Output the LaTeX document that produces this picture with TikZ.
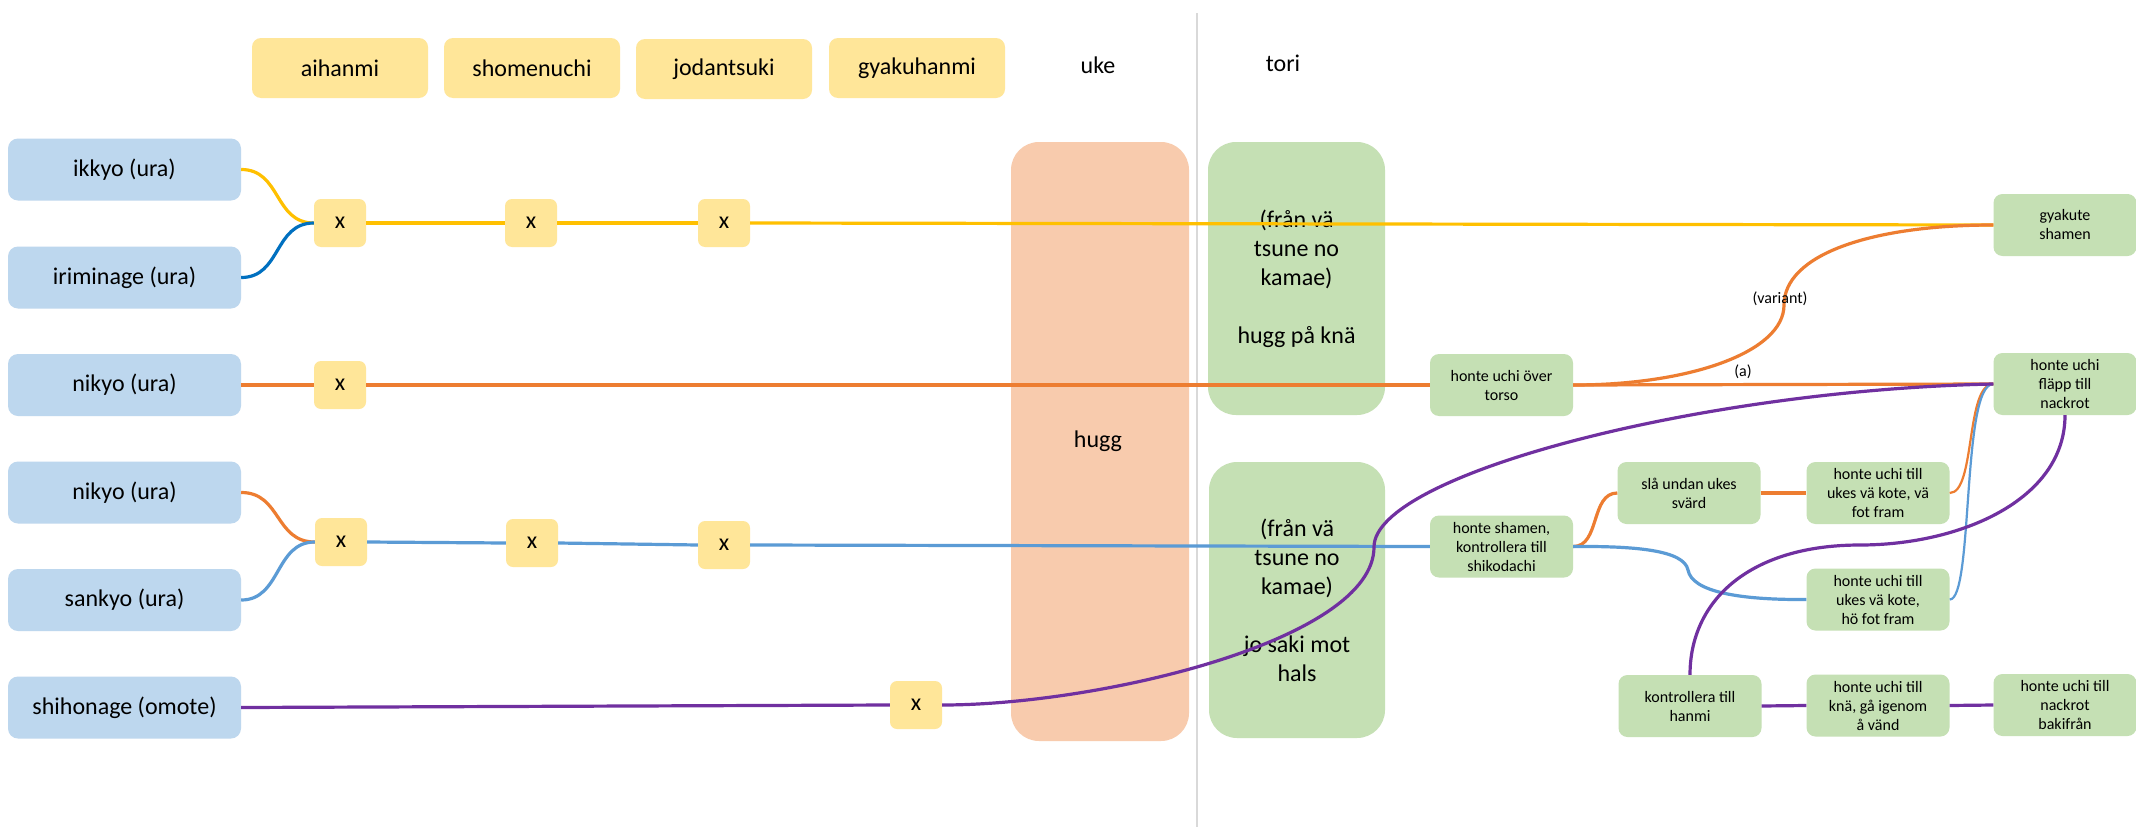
\documentclass[tikz,border=0pt]{standalone}
\usepackage{fontspec}
\setmainfont{Carlito}
\definecolor{hdry}{HTML}{FFE699}
\definecolor{lblu}{HTML}{BDD7EE}
\definecolor{grn}{HTML}{C5E0B4}
\definecolor{peach}{HTML}{F8CBAD}
\definecolor{cyel}{HTML}{FFC000}
\definecolor{cdblue}{HTML}{0070C0}
\definecolor{corange}{HTML}{ED7D31}
\definecolor{clblue}{HTML}{5B9BD5}
\definecolor{cpurple}{HTML}{7030A0}
\definecolor{gline}{HTML}{D9D9D9}
\begin{document}
\begin{tikzpicture}[x=1pt,y=-1pt,
 base/.style={inner sep=0pt, align=center, text=black},
 hdr/.style={base, fill=hdry, rounded corners=9pt, minimum width=176pt, minimum height=60pt, font=\fontsize{24}{29}\selectfont},
 lbox/.style={base, fill=lblu, rounded corners=10pt, minimum width=233pt, minimum height=62pt, font=\fontsize{24}{29}\selectfont},
 xbox/.style={base, fill=hdry, rounded corners=7pt, minimum width=52pt, minimum height=48pt, font=\fontsize{24}{29}\selectfont},
 big/.style={base, rounded corners=28pt, font=\fontsize{24}{29}\selectfont},
 sbox/.style={base, fill=grn, rounded corners=9pt, minimum width=143pt, minimum height=62pt, font=\fontsize{16}{19}\selectfont},
 plain/.style={base, font=\fontsize{24}{29}\selectfont},
 lbl/.style={base, font=\fontsize{16}{19}\selectfont},
 conn/.style={line width=3.2pt},
 thinconn/.style={line width=2.2pt},
]
\useasboundingbox (0,0) rectangle (2136,827);
\fill[white] (0,0) rectangle (2136,827);
% divider
\coordinate (dtop) at (1197,13);
\coordinate (dbot) at (1197,827);
\draw[gline, line width=1.5pt] (dtop) -- (dbot);

% headers
\node[hdr] (h1) at (340,68) {aihanmi};
\node[hdr] (h2) at (532,68) {shomenuchi};
\node[hdr] (h3) at (724,69) {jodantsuki};
\node[hdr] (h4) at (917,68) {gyakuhanmi};
\node[plain] (uke) at (1098,65) {uke};
\node[plain] (tori) at (1283,63) {tori};

% left boxes
\node[lbox] (ikkyo) at (124.5,169.5) {ikkyo (ura)};
\node[lbox] (irimi) at (124.5,277.5) {iriminage (ura)};
\node[lbox] (nikyoa) at (124.5,385) {nikyo (ura)};
\node[lbox] (nikyob) at (124.5,492.5) {nikyo (ura)};
\node[lbox] (sankyo) at (124.5,600) {sankyo (ura)};
\node[lbox] (shiho) at (124.5,707.5) {shihonage (omote)};

% x boxes
\node[xbox] (x11) at (340,223) {x};
\node[xbox] (x12) at (531,223) {x};
\node[xbox] (x13) at (724,223) {x};
\node[xbox] (x31) at (340,385) {x};
\node[xbox] (x41) at (341,542) {x};
\node[xbox] (x42) at (532,543) {x};
\node[xbox] (x43) at (724,545) {x};
\node[xbox] (x61) at (916,705) {x};

% big boxes
\node[big, fill=peach, minimum width=178pt, minimum height=599pt] (hugg) at (1100,441.5) {};
\node[plain] (huggt) at (1098,441) {hugg};
\node[big, fill=grn, minimum width=177pt, minimum height=273pt] (toria) at (1296.5,278.5)
  {(från vä\\tsune no\\kamae)\\[29pt]hugg på knä};
\node[big, fill=grn, minimum width=176pt, minimum height=276pt] (torib) at (1297,600)
  {(från vä\\tsune no\\kamae)\\[29pt]jo saki mot\\hals};

% small boxes
\node[sbox] (torso) at (1501.5,385) {honte uchi över\\torso};
\node[sbox] (shamen) at (1501.5,546.5) {honte shamen,\\kontrollera till\\shikodachi};
\node[sbox] (sla) at (1689,493) {slå undan ukes\\svärd};
\node[sbox] (vafot) at (1878,493) {honte uchi till\\ukes vä kote, vä\\fot fram};
\node[sbox] (hofot) at (1878,599.5) {honte uchi till\\ukes vä kote,\\hö fot fram};
\node[sbox] (hanmi) at (1690,706) {kontrollera till\\hanmi};
\node[sbox] (kna) at (1878,705.5) {honte uchi till\\knä, gå igenom\\å vänd};
\node[sbox] (bakif) at (2065,705) {honte uchi till\\nackrot\\bakifrån};
\node[sbox] (gyakute) at (2065,225) {gyakute\\shamen};
\node[sbox] (flapp) at (2065,384) {honte uchi\\fläpp till\\nackrot};

% row 1 (yellow)
\draw[conn, cyel] (ikkyo.east) .. controls +(40,0) and +(-40,0) .. (x11.west);
\draw[conn, cdblue] (irimi.east) .. controls +(40,0) and +(-40,0) .. (x11.west);
\draw[conn, cyel] (x11.east) -- (x12.west);
\draw[conn, cyel] (x12.east) -- (x13.west);
\draw[conn, cyel] (x13.east) -- (gyakute.west);

% row 3 (orange)
\draw[conn, corange] (nikyoa.east) -- (x31.west);
\draw[conn, corange] (x31.east) -- (torso.west);
\draw[conn, corange] (torso.east) -- (flapp.west);
\draw[conn, corange] (torso.east) .. controls (1690,385) and (1784,352) .. (1784,305)
  .. controls (1784,255) and (1870,225) .. (gyakute.west);
\node[lbl] (variant) at (1780,299) {(variant)};
\node[lbl] (alab) at (1743,372) {(a)};

% row 4 (blue)
\draw[conn, corange] (nikyob.east) .. controls +(40,0) and +(-40,0) .. (x41.west);
\draw[conn, clblue] (sankyo.east) .. controls +(40,0) and +(-40,0) .. (x41.west);
\draw[conn, clblue] (x41.east) -- (x42.west);
\draw[conn, clblue] (x42.east) -- (x43.west);
\draw[conn, clblue] (x43.east) -- (shamen.west);
\draw[conn, corange] (shamen.east) .. controls +(27,0) and +(-27,0) .. (sla.west);
\draw[conn, corange] (sla.east) -- (vafot.west);
\draw[thinconn, corange] (vafot.east) .. controls +(26,0) and +(-28,0) .. (flapp.west);
\draw[conn, clblue] (shamen.east) .. controls (1635,546) and (1684,550) .. (1688,570)
  .. controls (1692,592) and (1740,600) .. (hofot.west);
\draw[thinconn, clblue] (hofot.east) .. controls +(24,0) and +(-32,0) .. (flapp.west);

% purple
\draw[conn, cpurple] (shiho.east) -- (x61.west);
\draw[conn, cpurple] (x61.east) .. controls (1100,705) and (1374,640) .. (1374,547)
  .. controls (1374,475) and (1700,390) .. (flapp.west);
\draw[conn, cpurple] (hanmi.north) .. controls (1690,600) and (1750,545) .. (1860,545)
  .. controls (1960,545) and (2065,500) .. (flapp.south);
\draw[conn, cpurple] (hanmi.east) -- (kna.west);
\draw[conn, cpurple] (kna.east) -- (bakif.west);
\end{tikzpicture}
\end{document}
